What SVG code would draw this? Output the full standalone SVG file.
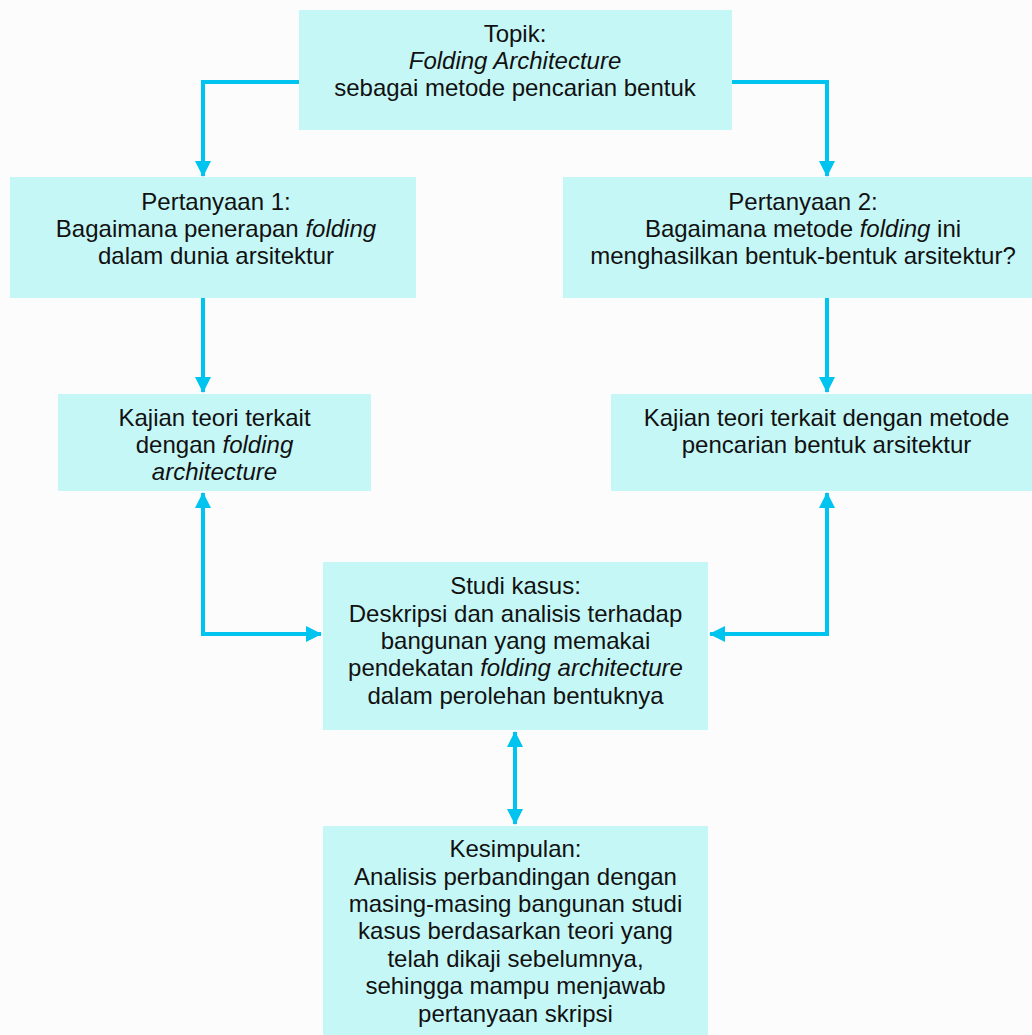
<svg xmlns="http://www.w3.org/2000/svg" width="1032" height="1035" viewBox="0 0 1032 1035">
<style>
.box{fill:#c6f7f7}
.t{font-family:"Liberation Sans",Arial,sans-serif;font-size:24px;fill:#111;text-anchor:middle}
.i{font-style:italic}
.c{fill:none;stroke:#00c4f0;stroke-width:4}
</style>
<defs>
<marker id="ah" markerUnits="userSpaceOnUse" markerWidth="16" markerHeight="16" viewBox="0 0 16 16" refX="15" refY="8" orient="auto-start-reverse">
<path d="M0,0 L16,8 L0,16 Z" fill="#00c4f0"/>
</marker>
</defs>
<rect width="1032" height="1035" fill="#fcfcfc"/>
<g id="connectors">
<path class="c" d="M299,82 H203 V176" marker-end="url(#ah)"/>
<path class="c" d="M732,82 H827 V176" marker-end="url(#ah)"/>
<path class="c" d="M203,298 V392" marker-end="url(#ah)"/>
<path class="c" d="M827,298 V392" marker-end="url(#ah)"/>
<path class="c" d="M203,493 V634 H321" marker-start="url(#ah)" marker-end="url(#ah)"/>
<path class="c" d="M827,493 V634 H710" marker-start="url(#ah)" marker-end="url(#ah)"/>
<path class="c" d="M515,732 V824" marker-start="url(#ah)" marker-end="url(#ah)"/>
</g>
<g id="topik">
<rect class="box" x="299" y="10" width="433" height="120"/>
<text class="t" x="515" y="42">Topik:</text>
<text class="t i" x="515" y="69">Folding Architecture</text>
<text class="t" x="515" y="96">sebagai metode pencarian bentuk</text>
</g>
<g id="pertanyaan1">
<rect class="box" x="10" y="177" width="406" height="121"/>
<text class="t" x="216" y="210">Pertanyaan 1:</text>
<text class="t" x="216" y="237">Bagaimana penerapan <tspan class="i">folding</tspan></text>
<text class="t" x="216" y="264">dalam dunia arsitektur</text>
</g>
<g id="pertanyaan2">
<rect class="box" x="563" y="177" width="480" height="121"/>
<text class="t" x="803" y="210">Pertanyaan 2:</text>
<text class="t" x="803" y="237">Bagaimana metode <tspan class="i">folding</tspan> ini</text>
<text class="t" x="803" y="264">menghasilkan bentuk-bentuk arsitektur?</text>
</g>
<g id="kajian1">
<rect class="box" x="58" y="394" width="313" height="97"/>
<text class="t" x="214.5" y="426">Kajian teori terkait</text>
<text class="t" x="214.5" y="453">dengan <tspan class="i">folding</tspan></text>
<text class="t i" x="214.5" y="480">architecture</text>
</g>
<g id="kajian2">
<rect class="box" x="611" y="394" width="431" height="97"/>
<text class="t" x="826.5" y="426">Kajian teori terkait dengan metode</text>
<text class="t" x="826.5" y="453">pencarian bentuk arsitektur</text>
</g>
<g id="studi">
<rect class="box" x="323" y="562" width="385" height="168"/>
<text class="t" x="515.5" y="594">Studi kasus:</text>
<text class="t" x="515.5" y="622">Deskripsi dan analisis terhadap</text>
<text class="t" x="515.5" y="649">bangunan yang memakai</text>
<text class="t" x="515.5" y="676">pendekatan <tspan class="i">folding architecture</tspan></text>
<text class="t" x="515.5" y="704">dalam perolehan bentuknya</text>
</g>
<g id="kesimpulan">
<rect class="box" x="323" y="826" width="385" height="215"/>
<text class="t" x="515.5" y="857">Kesimpulan:</text>
<text class="t" x="515.5" y="885">Analisis perbandingan dengan</text>
<text class="t" x="515.5" y="912">masing-masing bangunan studi</text>
<text class="t" x="515.5" y="939">kasus berdasarkan teori yang</text>
<text class="t" x="515.5" y="967">telah dikaji sebelumnya,</text>
<text class="t" x="515.5" y="994">sehingga mampu menjawab</text>
<text class="t" x="515.5" y="1022">pertanyaan skripsi</text>
</g>
</svg>
